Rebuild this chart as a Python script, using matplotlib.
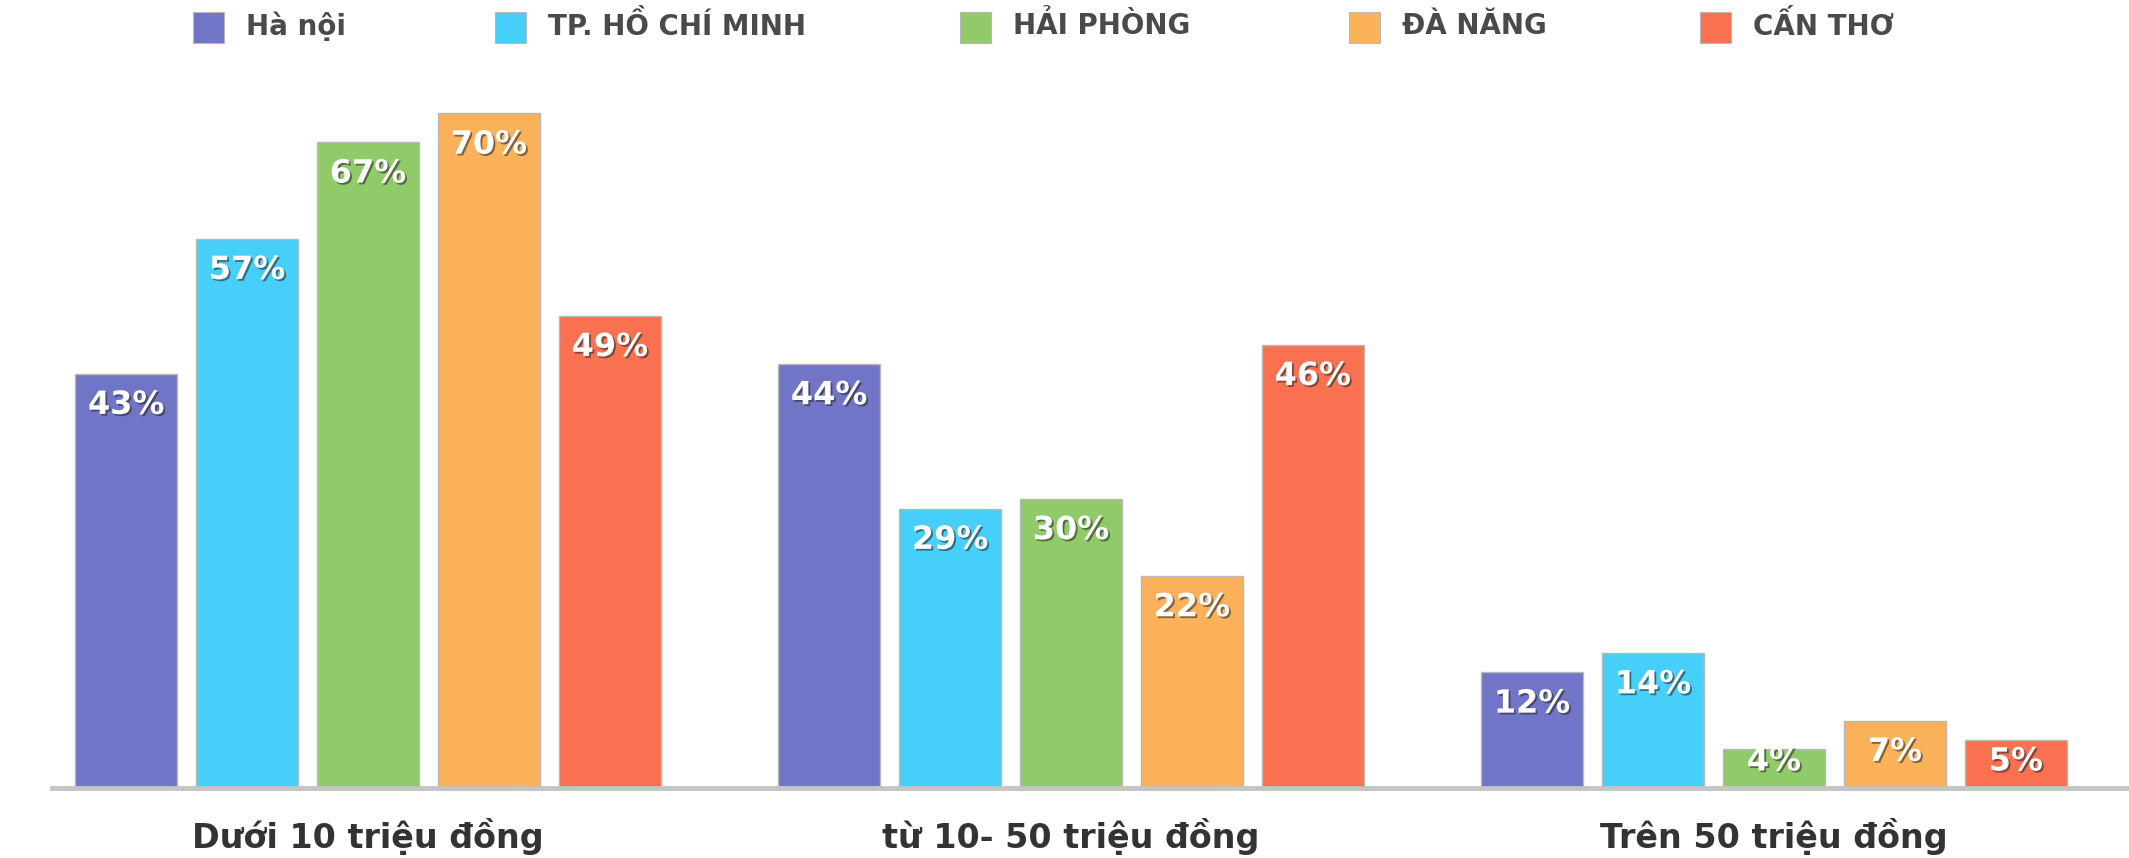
import matplotlib
matplotlib.use("Agg")
import matplotlib.pyplot as plt
import matplotlib.patheffects as pe
from matplotlib.patches import Rectangle

# Income brackets and the share of respondents in each city
categories = ["Dưới 10 triệu đồng", "từ 10- 50 triệu đồng", "Trên 50 triệu đồng"]
cities = ["Hà nội", "TP. HỒ CHÍ MINH", "HẢI PHÒNG", "ĐÀ NĂNG", "CẤN THƠ"]
ha_noi = [43, 44, 12]
ho_chi_minh = [57, 29, 14]
hai_phong = [67, 30, 4]
da_nang = [70, 22, 7]
can_tho = [49, 46, 5]
series = [ha_noi, ho_chi_minh, hai_phong, da_nang, can_tho]
colors = ["#7175C7", "#45CFF9", "#90CA69", "#FBB15A", "#F97151"]

W, H = 2129, 858
fig = plt.figure(figsize=(W / 100, H / 100), dpi=100)
ax = fig.add_axes([52 / W, 70 / H, 1 - 52 / W, (H - 70 - 17) / H])

step = 0.172
width = 0.145
label_fx = [pe.SimplePatchShadow(offset=(1.3, -1.3), shadow_rgbFace="#222222", alpha=0.55),
            pe.Normal()]

for i, (vals, col) in enumerate(zip(series, colors)):
    xs = [g + (i - 2) * step for g in range(len(categories))]
    ax.bar(xs, vals, width=width, color=col, edgecolor="#b8b8b8",
           linewidth=1.0, zorder=2)
    for x, v in zip(xs, vals):
        ax.text(x, max(v - 3.3, 2.7), f"{v}%", ha="center", va="center",
                color="white", fontsize=23, fontweight="bold",
                family="DejaVu Sans", path_effects=label_fx, zorder=3)

for g, name in enumerate(categories):
    ax.text(g, -5.0, name, ha="center", va="center", fontsize=24,
            fontweight="bold", color="#333333", family="DejaVu Sans",
            clip_on=False)

ax.set_xlim(-0.4495, 2.505)
ax.set_ylim(0, 80)
for side in ("top", "right", "left"):
    ax.spines[side].set_visible(False)
ax.spines["bottom"].set_color("#c4c4c4")
ax.spines["bottom"].set_linewidth(3.5)
ax.set_xticks([])
ax.set_yticks([])

# Legend row across the top
sq_left = [193, 495, 960, 1349, 1700]
for x0, name, col in zip(sq_left, cities, colors):
    fig.patches.append(Rectangle((x0 / W, 1 - 43 / H), 31 / W, 31 / H,
                                 transform=fig.transFigure, facecolor=col,
                                 edgecolor="#b8b8b8", linewidth=0.8))
    fig.text((x0 + 53) / W, 1 - 26 / H, name, ha="left", va="center",
             fontsize=20, fontweight="bold", color="#4a4a4a",
             family="DejaVu Sans")

fig.savefig("out.png", dpi=100, facecolor="white")
